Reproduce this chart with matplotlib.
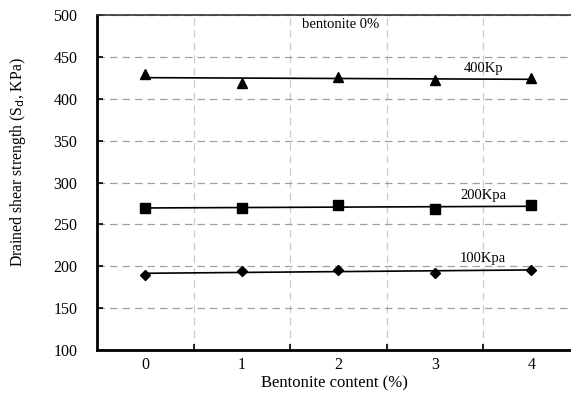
import numpy as np
import matplotlib
matplotlib.use("Agg")
import matplotlib.pyplot as plt

categories = ["0", "1", "2", "3", "4"]
s400 = [429, 419, 426, 422, 425]
s200 = [270, 269, 273, 268, 273]
s100 = [190, 194, 196, 192, 196]
series_labels = ["400Kp", "200Kpa", "100Kpa"]
yticks = [100, 150, 200, 250, 300, 350, 400, 450, 500]

plt.rcParams['font.family'] = ['Liberation Serif', 'DejaVu Serif']

fig = plt.figure(figsize=(5.71, 4.12), dpi=100)
ax = fig.add_axes([97/571, 62/412, 1 - 97/571, (350-15)/412])

x = np.arange(len(categories))
for vals, mk, ms in [(s400, '^', 7), (s200, 's', 7), (s100, 'D', 5.5)]:
    ax.plot(x, vals, linestyle='none', marker=mk, color='black', markersize=ms, zorder=3)
    p = np.polyfit(x, vals, 1)
    ax.plot([x[0], x[-1]], np.polyval(p, [x[0], x[-1]]), color='black', lw=1.2, zorder=2)

ax.set_xlim(-0.5, 4.41)
ax.set_ylim(100, 500)
ax.set_yticks(yticks)
ax.set_xticks(x)
ax.set_xticklabels(categories)
ax.set_xticks(np.arange(0.5, 4.5, 1), minor=True)
ax.tick_params(axis='x', which='major', length=0, pad=5, labelsize=11.5)
ax.tick_params(axis='x', which='minor', direction='in', length=4, width=1.2)
ax.tick_params(axis='y', direction='in', length=4, width=1.2, pad=14, labelsize=11.5)

ax.grid(True, axis='y', which='major', linestyle=(0, (6, 4)), color='#a0a0a0', lw=0.9)
ax.grid(True, axis='x', which='minor', linestyle=(0, (6, 4)), color='#cccccc', lw=0.9)
ax.grid(False, axis='x', which='major')

for s in ['left', 'bottom']:
    ax.spines[s].set_linewidth(2)
ax.spines['top'].set_linewidth(1.2)
ax.spines['top'].set_color('#333333')
ax.spines['right'].set_visible(False)

ax.set_xlabel("Bentonite content (%)", fontsize=12, labelpad=2)
ax.set_ylabel(r"Drained shear strength (S$_\mathrm{d}$, KPa)", fontsize=11.3)
ax.yaxis.set_label_coords(-0.145, 0.56)

ax.text(2.02, 489, "bentonite 0%", ha='center', va='center', fontsize=10.5)
ax.text(3.5, 436, series_labels[0], ha='center', va='center', fontsize=10.5)
ax.text(3.5, 285, series_labels[1], ha='center', va='center', fontsize=10.5)
ax.text(3.5, 209, series_labels[2], ha='center', va='center', fontsize=10.5)

fig.savefig("out.png", dpi=100)
